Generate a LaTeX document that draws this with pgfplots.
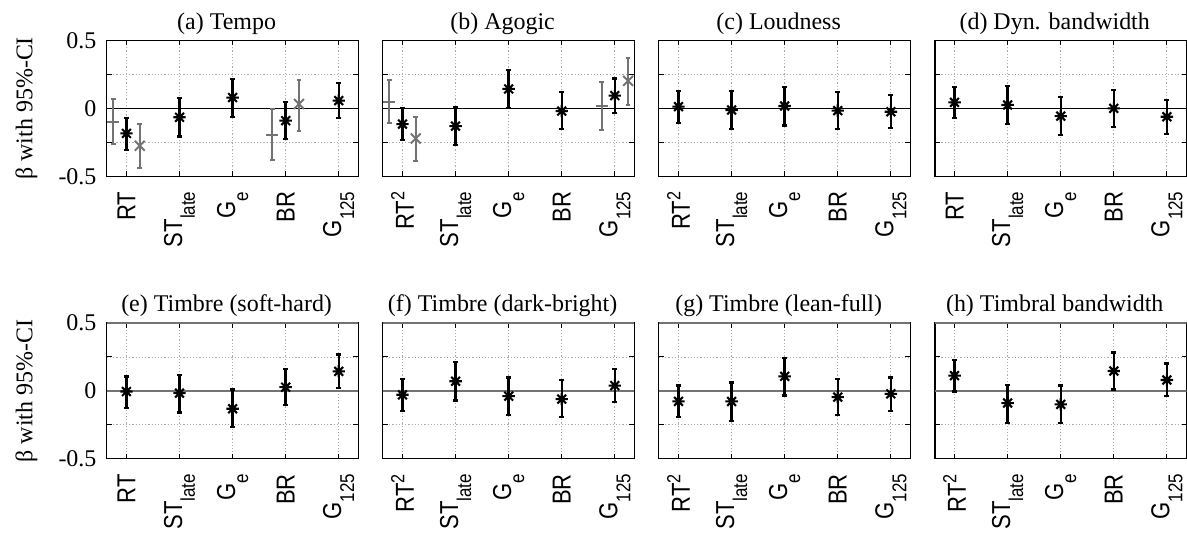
\documentclass[border=0pt]{standalone}
\usepackage{fontspec}
\setmainfont{Liberation Serif}
\setsansfont[FakeStretch=0.85]{Liberation Sans}
\usepackage{pgfplots}
\pgfplotsset{compat=1.18}

% MATLAB-like asterisk: plus and cross with equal arms
\pgfdeclareplotmark{ast8}{%
  \pgfpathmoveto{\pgfqpoint{-\pgfplotmarksize}{0pt}}%
  \pgfpathlineto{\pgfqpoint{\pgfplotmarksize}{0pt}}%
  \pgfpathmoveto{\pgfqpoint{0pt}{-\pgfplotmarksize}}%
  \pgfpathlineto{\pgfqpoint{0pt}{\pgfplotmarksize}}%
  \pgfpathmoveto{\pgfqpoint{-.7071\pgfplotmarksize}{-.7071\pgfplotmarksize}}%
  \pgfpathlineto{\pgfqpoint{.7071\pgfplotmarksize}{.7071\pgfplotmarksize}}%
  \pgfpathmoveto{\pgfqpoint{-.7071\pgfplotmarksize}{.7071\pgfplotmarksize}}%
  \pgfpathlineto{\pgfqpoint{.7071\pgfplotmarksize}{-.7071\pgfplotmarksize}}%
  \pgfusepathqstroke}

\newcommand{\sub}[1]{\raisebox{-6.5pt}{\fontsize{10}{10}\selectfont #1}}
\newcommand{\sups}[1]{\raisebox{4.8pt}{\fontsize{9.5}{9.5}\selectfont #1}}

\pgfkeys{/pgfplots/table/ci/.style={x=x, y=y,
  y error plus expr={\thisrow{hi}-\thisrow{y}},
  y error minus expr={\thisrow{y}-\thisrow{lo}}}}

\pgfplotsset{
  panel/.style={scale only axis, width=126pt, height=68pt, anchor=south west,
    xmin=0.63, xmax=5.37, ymin=-0.5, ymax=0.5,
    xtick={1,2,3,4,5}, ytick={-0.5,-0.25,0,0.25,0.5},
    yticklabels={-0.5,,0,,0.5},
    grid=major,
    major grid style={gray!65, line width=0.4pt, dash pattern=on 0.6pt off 1pt},
    axis line style={line width=0.6pt}, tick style={black, line width=0.5pt},
    major tick length=2.5pt,
    xticklabel style={font=\sffamily\fontsize{13}{13}\selectfont, rotate=90, anchor=east, inner sep=0pt},
    xticklabel shift=7.5pt,
    yticklabel style={font=\fontsize{12}{12}\selectfont, anchor=east, inner sep=0pt},
    yticklabel shift=5pt,
    every axis title/.style={at={(0.5,1)}, anchor=base, yshift=5.5pt, xshift=-3pt,
      font=\fontsize{12}{14}\selectfont},
    every axis y label/.style={at={(axis description cs:-0.319,0.5)}, anchor=center,
      rotate=90, font=\fontsize{12}{14}\selectfont},
  },
  noy/.style={yticklabels={}},
  labA/.style={xticklabels={RT, ST\sub{late}, G\sub{e}, BR, G\sub{125}}},
  labB/.style={xticklabels={RT\sups{2}, ST\sub{late}, G\sub{e}, BR, G\sub{125}}},
  blk/.style={black, only marks, mark=ast8, mark size=3.1pt,
    mark options={line width=1.05pt, solid},
    error bars/y dir=both, error bars/y explicit,
    error bars/error bar style={line width=1.2pt, black},
    error bars/error mark options={rotate=90, black, mark size=1.3pt, line width=1.1pt}},
  grp/.style={black!55, only marks, mark=+, mark size=3pt,
    mark options={line width=1pt, solid},
    error bars/y dir=both, error bars/y explicit,
    error bars/error bar style={line width=1pt, black!55},
    error bars/error mark options={rotate=90, black!55, mark size=1.2pt, line width=1pt}},
  grx/.style={grp, mark=x, mark size=3.5pt},
}

\begin{document}
\begin{tikzpicture}
\useasboundingbox (0pt,0pt) rectangle (594.5pt,269pt);

% ---------- row 1 ----------
\begin{axis}[panel, labA, at={(53.5pt,180.75pt)}, title={(a) Tempo}, ylabel={β with 95\%-CI}]
\draw[black, line width=0.6pt] (rel axis cs:0,0.5) -- (rel axis cs:1,0.5);
\addplot[grp] table[ci] {
x y lo hi
0.75 -0.099 -0.264 0.069
3.75 -0.195 -0.384 -0.005
};
\addplot[grx] table[ci] {
x y lo hi
1.25 -0.276 -0.438 -0.116
4.25 0.032 -0.170 0.209
};
\addplot[blk] table[ci] {
x y lo hi
1 -0.185 -0.305 -0.069
2 -0.066 -0.207 0.074
3 0.079 -0.064 0.217
4 -0.091 -0.227 0.049
5 0.057 -0.069 0.185
};
\end{axis}

\begin{axis}[panel, labB, noy, at={(191.75pt,180.75pt)}, title={(b) Agogic}]
\draw[black, line width=0.6pt] (rel axis cs:0,0.5) -- (rel axis cs:1,0.5);
\addplot[grp] table[ci] {
x y lo hi
0.75 0.049 -0.111 0.212
4.75 0.017 -0.158 0.197
};
\addplot[grx] table[ci] {
x y lo hi
1.25 -0.222 -0.387 -0.062
5.25 0.202 0.022 0.374
};
\addplot[blk] table[ci] {
x y lo hi
1 -0.116 -0.234 0.005
2 -0.131 -0.273 0.010
3 0.143 0.002 0.283
4 -0.020 -0.150 0.121
5 0.094 -0.032 0.219
};
\end{axis}

\begin{axis}[panel, labB, noy, at={(330pt,180.75pt)}, title={(c) Loudness}]
\draw[black, line width=0.6pt] (rel axis cs:0,0.5) -- (rel axis cs:1,0.5);
\addplot[blk] table[ci] {
x y lo hi
1 0.012 -0.106 0.130
2 -0.012 -0.153 0.130
3 0.017 -0.126 0.160
4 -0.017 -0.153 0.121
5 -0.025 -0.143 0.101
};
\end{axis}

\begin{axis}[panel, labA, noy, at={(468.25pt,180.75pt)}, title={(d) Dyn. bandwidth}]
\draw[black, line width=0.6pt] (rel axis cs:0,0.5) -- (rel axis cs:1,0.5);
\addplot[blk] table[ci] {
x y lo hi
1 0.044 -0.069 0.160
2 0.025 -0.113 0.165
3 -0.057 -0.197 0.081
4 0.000 -0.135 0.135
5 -0.062 -0.187 0.064
};
\end{axis}

% ---------- row 2 ----------
\begin{axis}[panel, labA, at={(53.5pt,39.25pt)}, title={(e) Timbre (soft-hard)}, ylabel={β with 95\%-CI}]
\draw[black!55, line width=1pt] (rel axis cs:0,0.5) -- (rel axis cs:1,0.5);
\draw[black!55, line width=1pt] (rel axis cs:0,1) -- (rel axis cs:1,1);
\addplot[blk] table[ci] {
x y lo hi
1 -0.005 -0.127 0.105
2 -0.017 -0.159 0.117
3 -0.132 -0.266 0.010
4 0.027 -0.105 0.163
5 0.144 0.022 0.268
};
\end{axis}

\begin{axis}[panel, labB, noy, at={(191.75pt,39.25pt)}, title={(f) Timbre (dark-bright)}]
\draw[black!55, line width=1pt] (rel axis cs:0,0.5) -- (rel axis cs:1,0.5);
\draw[black!55, line width=1pt] (rel axis cs:0,1) -- (rel axis cs:1,1);
\addplot[blk] table[ci] {
x y lo hi
1 -0.029 -0.149 0.088
2 0.071 -0.071 0.210
3 -0.039 -0.180 0.098
4 -0.061 -0.195 0.078
5 0.039 -0.085 0.163
};
\end{axis}

\begin{axis}[panel, labB, noy, at={(330pt,39.25pt)}, title={(g) Timbre (lean-full)}]
\draw[black!55, line width=1pt] (rel axis cs:0,0.5) -- (rel axis cs:1,0.5);
\draw[black!55, line width=1pt] (rel axis cs:0,1) -- (rel axis cs:1,1);
\addplot[blk] table[ci] {
x y lo hi
1 -0.078 -0.195 0.039
2 -0.078 -0.220 0.061
3 0.107 -0.034 0.244
4 -0.046 -0.180 0.090
5 -0.022 -0.146 0.098
};
\end{axis}

\begin{axis}[panel, labB, noy, at={(468.25pt,39.25pt)}, title={(h) Timbral bandwidth}]
\draw[black!55, line width=1pt] (rel axis cs:0,0.5) -- (rel axis cs:1,0.5);
\draw[black!55, line width=1pt] (rel axis cs:0,1) -- (rel axis cs:1,1);
\addplot[blk] table[ci] {
x y lo hi
1 0.112 -0.005 0.229
2 -0.090 -0.234 0.046
3 -0.100 -0.239 0.039
4 0.146 0.010 0.283
5 0.080 -0.037 0.202
};
\end{axis}
\end{tikzpicture}
\end{document}
